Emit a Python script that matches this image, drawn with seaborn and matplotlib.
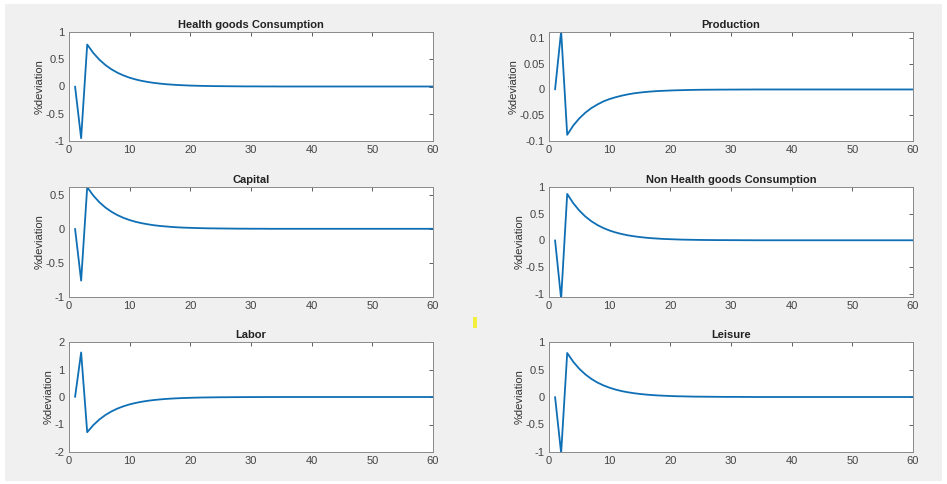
import numpy as np
import pandas as pd
import matplotlib
matplotlib.use("Agg")
import matplotlib.pyplot as plt
import seaborn as sns
from matplotlib.patches import Rectangle

# impulse responses, periods 1..60
periods = list(range(1, 61))

health_cons = [0.0, -0.95, 0.77, 0.616, 0.493, 0.394, 0.315, 0.252, 0.202, 0.161,
               0.129, 0.103, 0.083, 0.066, 0.053, 0.042, 0.034, 0.027, 0.022, 0.017,
               0.014, 0.011, 0.009, 0.007, 0.006, 0.005, 0.004, 0.003, 0.002, 0.002,
               0.002, 0.001, 0.001, 0.001, 0.0, 0.0, 0.0, 0.0, 0.0, 0.0,
               0.0, 0.0, 0.0, 0.0, 0.0, 0.0, 0.0, 0.0, 0.0, 0.0,
               0.0, 0.0, 0.0, 0.0, 0.0, 0.0, 0.0, 0.0, 0.0, 0.0]

production = [0.0, 0.113, -0.088, -0.070, -0.056, -0.045, -0.036, -0.029, -0.023, -0.0185,
              -0.015, -0.012, -0.0095, -0.0075, -0.006, -0.0048, -0.0038, -0.003, -0.0025, -0.002,
              -0.0016, -0.0013, -0.001, -0.0008, -0.0006, -0.0005, -0.0004, -0.0003, -0.0003, -0.0002,
              -0.0002, -0.0001, -0.0001, 0.0, 0.0, 0.0, 0.0, 0.0, 0.0, 0.0,
              0.0, 0.0, 0.0, 0.0, 0.0, 0.0, 0.0, 0.0, 0.0, 0.0,
              0.0, 0.0, 0.0, 0.0, 0.0, 0.0, 0.0, 0.0, 0.0, 0.0]

capital = [0.0, -0.76, 0.61, 0.488, 0.390, 0.312, 0.250, 0.200, 0.160, 0.128,
           0.102, 0.082, 0.066, 0.052, 0.042, 0.034, 0.027, 0.021, 0.017, 0.014,
           0.011, 0.009, 0.007, 0.006, 0.005, 0.004, 0.003, 0.002, 0.002, 0.001,
           0.001, 0.001, 0.0, 0.0, 0.0, 0.0, 0.0, 0.0, 0.0, 0.0,
           0.0, 0.0, 0.0, 0.0, 0.0, 0.0, 0.0, 0.0, 0.0, 0.0,
           0.0, 0.0, 0.0, 0.0, 0.0, 0.0, 0.0, 0.0, 0.0, 0.0]

nonhealth_cons = [0.0, -1.10, 0.87, 0.696, 0.557, 0.445, 0.356, 0.285, 0.228, 0.182,
                  0.146, 0.117, 0.093, 0.075, 0.060, 0.048, 0.038, 0.031, 0.024, 0.020,
                  0.016, 0.012, 0.010, 0.008, 0.006, 0.005, 0.004, 0.003, 0.003, 0.002,
                  0.002, 0.001, 0.001, 0.0, 0.0, 0.0, 0.0, 0.0, 0.0, 0.0,
                  0.0, 0.0, 0.0, 0.0, 0.0, 0.0, 0.0, 0.0, 0.0, 0.0,
                  0.0, 0.0, 0.0, 0.0, 0.0, 0.0, 0.0, 0.0, 0.0, 0.0]

labor = [0.0, 1.62, -1.28, -1.024, -0.819, -0.655, -0.524, -0.419, -0.336, -0.268,
         -0.215, -0.172, -0.137, -0.110, -0.088, -0.070, -0.056, -0.045, -0.036, -0.029,
         -0.023, -0.018, -0.015, -0.012, -0.009, -0.008, -0.006, -0.005, -0.004, -0.003,
         -0.002, -0.002, -0.001, -0.001, 0.0, 0.0, 0.0, 0.0, 0.0, 0.0,
         0.0, 0.0, 0.0, 0.0, 0.0, 0.0, 0.0, 0.0, 0.0, 0.0,
         0.0, 0.0, 0.0, 0.0, 0.0, 0.0, 0.0, 0.0, 0.0, 0.0]

leisure = [0.0, -1.02, 0.80, 0.64, 0.512, 0.410, 0.328, 0.262, 0.210, 0.168,
           0.134, 0.107, 0.086, 0.069, 0.055, 0.044, 0.035, 0.028, 0.023, 0.018,
           0.014, 0.012, 0.009, 0.007, 0.006, 0.005, 0.004, 0.003, 0.002, 0.002,
           0.002, 0.001, 0.001, 0.0, 0.0, 0.0, 0.0, 0.0, 0.0, 0.0,
           0.0, 0.0, 0.0, 0.0, 0.0, 0.0, 0.0, 0.0, 0.0, 0.0,
           0.0, 0.0, 0.0, 0.0, 0.0, 0.0, 0.0, 0.0, 0.0, 0.0]

titles = ["Health goods Consumption", "Production", "Capital",
          "Non Health goods Consumption", "Labor", "Leisure"]
series = [health_cons, production, capital, nonhealth_cons, labor, leisure]
ylims = [(-1, 1), (-0.1, 0.1115), (-1, 0.613), (-1.065, 1), (-2, 2), (-1, 1)]
yticks = [[-1, -0.5, 0, 0.5, 1],
          [-0.1, -0.05, 0, 0.05, 0.1],
          [-1, -0.5, 0, 0.5],
          [-1, -0.5, 0, 0.5, 1],
          [-2, -1, 0, 1, 2],
          [-1, -0.5, 0, 0.5, 1]]
xticks = [0, 10, 20, 30, 40, 50, 60]

sns.set_theme(style="white")
plt.rcParams["font.family"] = ["Liberation Sans", "DejaVu Sans"]

W, H = 947, 484
fig = plt.figure(figsize=(W / 100, H / 100), dpi=100)
fig.patch.set_facecolor("white")
fig.patches.append(Rectangle((5 / W, 1 - 481 / H), 937 / W, 477 / H,
                             transform=fig.transFigure, facecolor="#f0f0f0",
                             edgecolor="none", zorder=-10))
# small yellow mark in the middle
fig.patches.append(Rectangle((473 / W, 1 - 328 / H), 4 / W, 11 / H,
                             transform=fig.transFigure, facecolor="#f2f03c",
                             edgecolor="none", zorder=5))

# axes boxes in pixels: left, right, top, bottom
cols = [(69, 433), (549, 913)]
rows = [(32, 141), (187, 297), (342, 452)]

for i, (title, vals) in enumerate(zip(titles, series)):
    r, c = divmod(i, 2)
    l, rr = cols[c]
    t, b = rows[r]
    ax = fig.add_axes([l / W, 1 - b / H, (rr - l) / W, (b - t) / H])
    ax.set_facecolor("white")
    df = pd.DataFrame({"period": periods, "value": vals})
    sns.lineplot(data=df, x="period", y="value", ax=ax, color="#0f6fb5", linewidth=1.3)
    ax.set_xlim(0, 60)
    ax.set_ylim(*ylims[i])
    ax.set_xticks(xticks)
    ax.set_xticklabels([str(v) for v in xticks])
    ax.set_yticks(yticks[i])
    ax.set_yticklabels([f"{v:g}" for v in yticks[i]])
    ax.set_xlabel("")
    ax.set_ylabel("%deviation", fontsize=8, color="#333333", labelpad=1)
    ax.set_title(title, fontsize=8, fontweight="bold", color="#222222", pad=3)
    ax.tick_params(direction="in", length=3, width=0.6, top=True, right=True,
                   labelsize=8, colors="#444444", pad=3)
    for sp in ax.spines.values():
        sp.set_color("#8a8a8a")
        sp.set_linewidth(0.7)

fig.savefig("out.png", dpi=100, facecolor=fig.get_facecolor())
